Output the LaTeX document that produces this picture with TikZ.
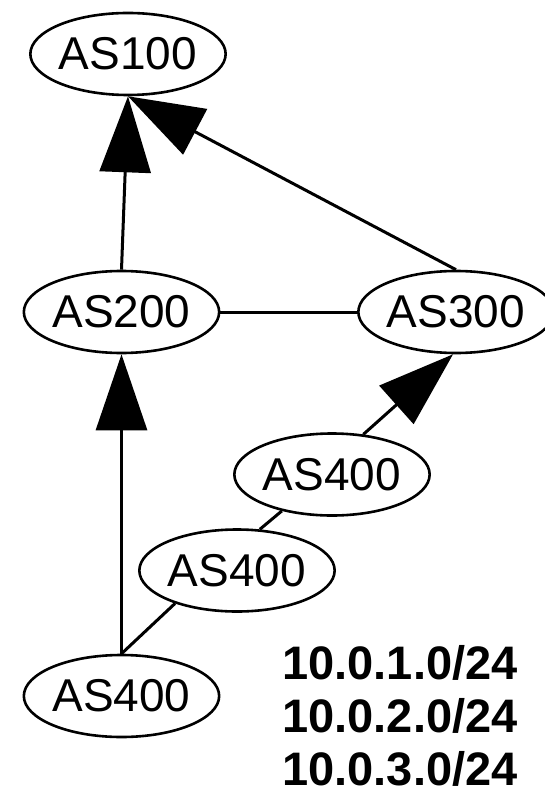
\documentclass[tikz,border=0pt]{standalone}
\usepackage{fontspec}
\setmainfont{Liberation Sans}
\usepackage{pgf,tikz}
\usetikzlibrary{arrows,arrows.meta,shapes.geometric}

\begin{document}
\begin{tikzpicture}[x=1pt,y=-1pt,line width=3pt,
		as/.style={ellipse,draw,line width=2.6pt,minimum width=194pt,minimum height=82pt,inner sep=0pt,
			font=\fontsize{46}{55}\selectfont},
		pfeil/.style={-{Triangle[length=76pt,width=51pt]}}]
		\useasboundingbox (0,0) rectangle (544,791);
		%Knoten zeichnen
		\node[as] (as100) at (128,54) {AS100};
		\node[as] (as200) at (121.5,312) {AS200};
		\node[as] (as300) at (456,312) {AS300};
		\node[as] (as400a) at (332,474.5) {AS400};
		\node[as] (as400b) at (237,570.5) {AS400};
		\node[as] (as400c) at (121.5,696) {AS400};
		%Kanten
		\draw[pfeil] (as200.north) -- (as100.south);
		\draw[pfeil] (as300.north) -- (as100.south);
		\draw (as200) -- (as300);
		\draw[pfeil] (as400c.north) -- (as200.south);
		\draw (as400c.north) -- (as400b.208);
		\draw (as400b.61) -- (as400a.216);
		\draw[pfeil] (as400a.52) -- (as300.266);
		%Praefixe
		\foreach \i/\y in {1/679,2/732,3/785}
			\node[anchor=base,inner sep=0pt,font=\bfseries\fontsize{47}{55}\selectfont] (p\i) at (400,\y) {10.0.\i.0/24};
	\end{tikzpicture}
\end{document}
